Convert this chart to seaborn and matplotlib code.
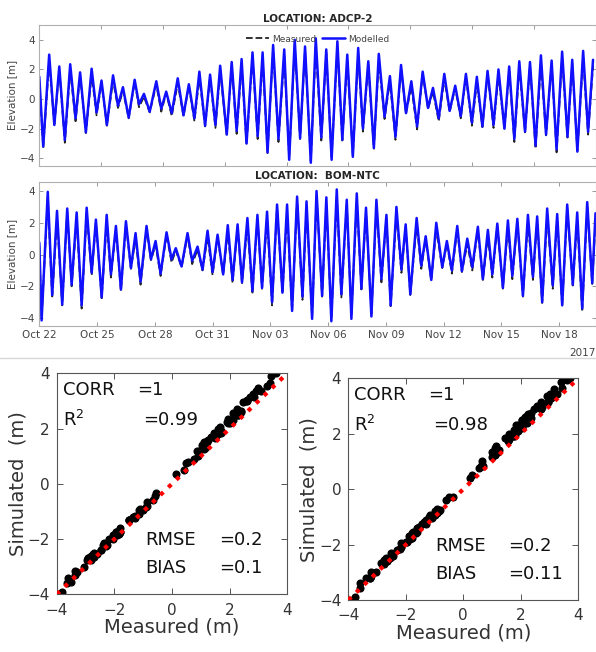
import matplotlib
matplotlib.use("Agg")
import matplotlib.pyplot as plt
import matplotlib.dates as mdates
from matplotlib.lines import Line2D
import numpy as np
import pandas as pd
import seaborn as sns

# ADCP-2: tidal extrema (days after 2017-10-22), modelled and measured elevation [m]
adcp_days = [0.00, 0.19, 0.48, 0.73, 0.97, 1.24, 1.50, 1.76, 1.98, 2.26,
             2.54, 2.78, 3.02, 3.28, 3.58, 3.82, 4.06, 4.34, 4.63, 4.84,
             5.08, 5.36, 5.68, 5.92, 6.16, 6.43, 6.72, 7.00, 7.26, 7.53,
             7.77, 8.05, 8.29, 8.55, 8.78, 9.10, 9.34, 9.58, 9.82, 10.06,
             10.35, 10.60, 10.84, 11.08, 11.35, 11.61, 11.89, 12.13, 12.40, 12.66,
             12.90, 13.18, 13.42, 13.69, 13.93, 14.19, 14.47, 14.71, 14.95, 15.22,
             15.48, 15.71, 15.97, 16.24, 16.48, 16.76, 17.02, 17.29, 17.56, 17.80,
             18.06, 18.34, 18.61, 18.87, 19.11, 19.39, 19.66, 19.92, 20.19, 20.46,
             20.71, 21.00, 21.24, 21.51, 21.76, 22.05, 22.29, 22.58, 22.81, 23.06,
             23.30, 23.58, 23.82, 24.09, 24.35, 24.60, 24.87, 25.11, 25.38, 25.64,
             25.87, 26.12, 26.40, 26.64, 26.88]
adcp_model = [1.5, -3.2, 3.0, -1.75, 2.2, -2.75, 2.35, -1.3, 1.8, -2.25,
              2.05, -0.9, 1.25, -1.75, 1.6, -0.45, 0.8, -1.25, 1.3, -0.35,
              0.35, -0.85, 1.2, -0.65, 0.5, -0.95, 1.4, -1.1, 1.0, -1.3,
              1.85, -1.8, 1.65, -1.75, 2.25, -2.4, 2.5, -2.15, 2.7, -3.0,
              3.15, -2.5, 3.15, -3.6, 3.65, -2.7, 3.35, -4.1, 4.0, -2.65,
              3.55, -4.3, 4.1, -2.6, 3.35, -4.1, 3.9, -2.75, 3.0, -3.9,
              3.45, -2.0, 2.55, -3.3, 3.05, -1.2, 1.55, -2.55, 2.3, -0.95,
              1.2, -1.85, 1.85, -0.6, 0.75, -1.3, 1.7, -0.8, 0.9, -1.15,
              1.7, -1.6, 1.5, -1.85, 1.9, -1.75, 2.0, -2.0, 2.2, -2.7,
              2.55, -2.2, 2.5, -3.15, 2.95, -2.4, 2.6, -3.4, 3.2, -2.55,
              2.65, -3.55, 3.25, -2.2, 2.65]
adcp_meas = [1.2, -3.3, 2.55, -1.8, 2.0, -2.95, 1.95, -1.5, 1.6, -2.3,
             1.65, -1.1, 1.1, -1.8, 1.25, -0.6, 0.55, -1.3, 1.15, -0.55,
             0.15, -0.9, 0.95, -0.85, 0.4, -1.15, 1.05, -1.15, 0.9, -1.5,
             1.45, -1.85, 1.5, -1.95, 1.9, -2.45, 2.3, -2.35, 2.25, -3.05,
             2.85, -2.7, 2.7, -3.65, 3.4, -2.9, 2.9, -3.95, 3.6, -2.7,
             3.3, -4.2, 3.55, -2.8, 3.1, -3.9, 3.45, -2.8, 2.6, -3.8,
             3.0, -2.2, 2.35, -3.35, 2.6, -1.35, 1.2, -2.75, 2.1, -1.0,
             0.85, -2.05, 1.7, -0.65, 0.5, -1.5, 1.35, -0.85, 0.75, -1.3,
             1.5, -1.8, 1.1, -1.9, 1.7, -1.95, 1.6, -2.05, 1.95, -2.9,
             2.1, -2.25, 2.3, -3.35, 2.45, -2.45, 2.4, -3.6, 2.8, -2.6,
             2.4, -3.5, 2.8, -2.4, 2.25]

# BOM-NTC
bom_days = [0.00, 0.12, 0.44, 0.67, 0.92, 1.19, 1.45, 1.68, 1.94, 2.20,
            2.46, 2.72, 2.94, 3.24, 3.50, 3.72, 3.98, 4.24, 4.50, 4.76,
            5.00, 5.26, 5.57, 5.80, 6.04, 6.30, 6.61, 6.87, 7.09, 7.39,
            7.70, 7.94, 8.22, 8.48, 8.74, 9.00, 9.26, 9.55, 9.79, 10.04,
            10.30, 10.53, 10.81, 11.07, 11.33, 11.57, 11.83, 12.09, 12.35, 12.63,
            12.87, 13.13, 13.39, 13.67, 13.88, 14.17, 14.40, 14.69, 14.91, 15.17,
            15.45, 15.69, 15.97, 16.21, 16.49, 16.73, 16.97, 17.25, 17.51, 17.77,
            18.03, 18.25, 18.55, 18.81, 19.03, 19.27, 19.60, 19.84, 20.07, 20.36,
            20.62, 20.93, 21.17, 21.43, 21.71, 21.95, 22.23, 22.49, 22.78, 23.04,
            23.30, 23.53, 23.79, 24.08, 24.34, 24.57, 24.83, 25.12, 25.38, 25.64,
            25.86, 26.12, 26.38, 26.67, 26.90, 27.16, 27.42, 27.71, 27.94, 28.20,
            28.46, 28.72, 28.89]
bom_model = [0.75, -4.15, 3.95, -2.55, 2.75, -3.15, 2.9, -1.9, 2.65, -3.2,
             2.95, -1.15, 2.2, -2.7, 2.5, -1.25, 1.8, -2.2, 2.1, -0.85,
             1.35, -1.7, 1.8, -0.3, 0.85, -1.2, 1.4, -0.3, 0.4, -0.75,
             1.35, -0.4, 0.5, -0.95, 1.5, -1.1, 1.25, -1.25, 1.85, -1.6,
             1.9, -1.75, 2.3, -2.3, 2.5, -2.1, 2.7, -3.0, 3.15, -2.4,
             3.15, -3.55, 3.65, -2.65, 3.35, -4.05, 4.0, -2.6, 3.6, -4.2,
             4.1, -2.5, 3.45, -4.05, 3.85, -2.15, 2.95, -3.9, 3.45, -1.55,
             2.5, -3.2, 3.0, -0.95, 1.9, -2.5, 2.3, -0.7, 1.15, -1.6,
             2.0, -0.8, 0.85, -1.0, 1.8, -1.05, 1.0, -0.8, 1.75, -1.55,
             1.55, -1.25, 1.95, -2.1, 2.15, -1.35, 2.25, -2.6, 2.5, -1.4,
             2.4, -3.0, 2.9, -1.95, 2.55, -3.2, 3.15, -1.9, 2.65, -3.4,
             3.3, -1.8, 2.6]
bom_meas = [0.55, -4.05, 3.6, -2.75, 2.35, -3.2, 2.7, -2.0, 2.2, -3.4,
            2.6, -1.3, 2.05, -2.75, 2.05, -1.45, 1.55, -2.3, 1.9, -0.9,
            1.0, -1.9, 1.6, -0.35, 0.6, -1.35, 1.25, -0.5, 0.25, -0.8,
            1.2, -0.6, 0.3, -1.0, 1.1, -1.3, 1.1, -1.3, 1.45, -1.8,
            1.75, -1.8, 1.85, -2.5, 2.3, -2.15, 2.25, -3.2, 2.95, -2.45,
            2.7, -3.6, 3.45, -2.85, 2.9, -3.95, 3.7, -2.65, 3.15, -4.05,
            3.6, -2.7, 3.25, -3.9, 3.4, -2.2, 2.75, -3.75, 3.0, -1.75,
            2.3, -3.25, 2.55, -1.15, 1.75, -2.55, 1.9, -0.9, 1.0, -1.65,
            1.6, -0.85, 0.7, -1.2, 1.6, -1.1, 0.65, -1.0, 1.55, -1.6,
            1.15, -1.45, 1.8, -2.15, 1.75, -1.55, 2.05, -2.65, 2.05, -1.6,
            2.2, -3.05, 2.45, -2.15, 2.35, -3.25, 2.95, -1.95, 2.2, -3.6,
            3.05, -1.85, 2.15]

# statistics printed in the scatter panels
stats_adcp = {"corr": "=1", "r2": "=0.99", "rmse": "=0.2", "bias": "=0.1"}
stats_bom = {"corr": "=1", "r2": "=0.98", "rmse": "=0.2", "bias": "=0.11"}

start = pd.Timestamp("2017-10-22")
tick_dates = pd.date_range(start, periods=10, freq="3D")

sns.set_style("ticks")
plt.rcParams["font.family"] = ["DejaVu Sans"]

W, H = 596, 652
fig = plt.figure(figsize=(W / 100, H / 100), dpi=100)


def px_axes(l, t, r, b):
    return fig.add_axes([l / W, 1 - b / H, (r - l) / W, (b - t) / H])


def series_panel(ax, days, meas, model, title, span, show_labels, legend):
    t = start + pd.to_timedelta(np.array(days), unit="D")
    df = pd.DataFrame({"time": t, "meas": meas, "model": model})
    sns.lineplot(data=df, x="time", y="meas", ax=ax, color="#222222", lw=1.3,
                 linestyle="--", sort=False, estimator=None, label="Measured")
    sns.lineplot(data=df, x="time", y="model", ax=ax, color="#1010ff", lw=1.8,
                 sort=False, estimator=None, label="Modelled",
                 solid_joinstyle="round")
    ax.set_xlim(start, start + pd.Timedelta(days=span))
    ax.set_xticks(tick_dates)
    if show_labels:
        ax.xaxis.set_major_formatter(mdates.DateFormatter("%b %d"))
    else:
        ax.set_xticklabels([])
    ax.set_yticks([-4, -2, 0, 2, 4])
    ax.set_xlabel("")
    ax.set_ylabel("Elevation [m]", fontsize=7.5, color="#444444", labelpad=2)
    ax.set_title(title, fontsize=7.5, fontweight="bold", pad=2.5)
    ax.tick_params(direction="in", length=3, width=0.6, colors="#888888",
                   labelcolor="#444444", labelsize=7.5, top=True, right=True, pad=3)
    for s in ax.spines.values():
        s.set_color("#b0b0b0")
        s.set_linewidth(0.8)
    if legend:
        ax.legend(loc="upper center", bbox_to_anchor=(0.5, 0.99), ncol=2, frameon=False,
                  fontsize=6.5, handlelength=2.6, columnspacing=0.6, handletextpad=0.3,
                  labelcolor="#444444")
    else:
        ax.get_legend().remove()


ax1 = px_axes(39.3, 25, 595.5, 165.7)
series_panel(ax1, adcp_days, adcp_meas, adcp_model, "LOCATION: ADCP-2", 26.93, False, True)
ax1.set_ylim(-4.5, 5.0)

ax2 = px_axes(39.3, 182.3, 595.5, 326)
series_panel(ax2, bom_days, bom_meas, bom_model, "LOCATION:  BOM-NTC", 28.89, True, False)
ax2.set_ylim(-4.5, 4.55)
ax2.text(1.0, -0.155, "2017", transform=ax2.transAxes, ha="right", va="top",
         fontsize=7.5, color="#444444")

# separator between the time series and the scatter plots
fig.add_artist(Line2D([0, 1], [1 - 358 / H, 1 - 358 / H], color="#d8d8d8", lw=1))


def scatter_panel(ax, meas, model, st, pos):
    sns.scatterplot(x=meas, y=model, ax=ax, color="black", s=34, linewidth=0, zorder=2)
    ax.plot([-4, 4], [-4, 4], color="red", linestyle=":", lw=3, zorder=3)
    ax.set_xlim(-4, 4)
    ax.set_ylim(-4, 4)
    ax.set_xticks([-4, -2, 0, 2, 4])
    ax.set_yticks([-4, -2, 0, 2, 4])
    ax.set_xlabel("Measured (m)", fontsize=14, color="#333333", labelpad=0)
    ax.set_ylabel("Simulated  (m)", fontsize=14, color="#333333", labelpad=0)
    ax.tick_params(direction="in", length=4, width=0.7, colors="#555555",
                   labelcolor="#333333", labelsize=11, top=True, right=True)
    ax.tick_params(axis="x", pad=6)
    ax.tick_params(axis="y", pad=5)
    for s in ax.spines.values():
        s.set_color("#555555")
        s.set_linewidth(0.8)
    kw = dict(fontsize=13, color="#111111", va="center", ha="left")
    x0, xv1, xv2, xs, xsv = pos
    ax.text(x0, 3.4, "CORR", **kw)
    ax.text(xv1, 3.4, st["corr"], **kw)
    ax.text(x0, 2.3, "R$^2$", **kw)
    ax.text(xv2, 2.3, st["r2"], **kw)
    ax.text(xs, -2.05, "RMSE", **kw)
    ax.text(xsv, -2.05, st["rmse"], **kw)
    ax.text(xs, -3.05, "BIAS", **kw)
    ax.text(xsv, -3.05, st["bias"], **kw)


ax3 = px_axes(56.7, 373.3, 287.3, 594.3)
scatter_panel(ax3, adcp_meas, adcp_model, stats_adcp, (-3.77, -1.2, -0.99, -0.93, 1.62))

ax4 = px_axes(348.3, 378.3, 578.3, 600)
scatter_panel(ax4, bom_meas, bom_model, stats_bom, (-3.79, -1.22, -1.04, -0.98, 1.57))

fig.savefig("out.png", dpi=100)
